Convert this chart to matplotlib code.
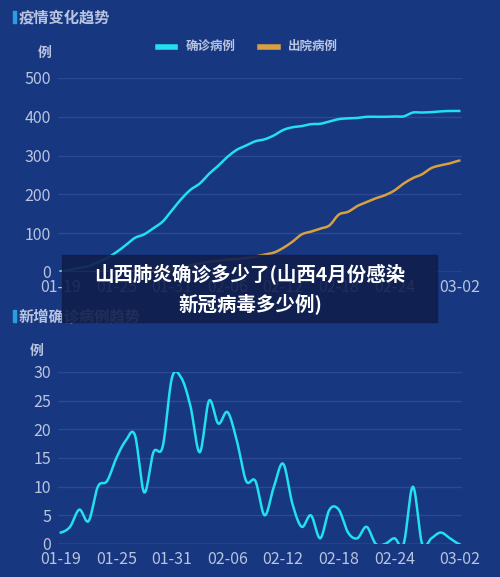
import numpy as np
import matplotlib
matplotlib.use("Agg")
from matplotlib import pyplot as plt
from matplotlib.patches import Rectangle

plt.rcParams['font.family'] = ['Noto Sans CJK SC', 'DejaVu Sans']

dates = ['01-19', '01-25', '01-31', '02-06', '02-12', '02-18', '02-24', '03-02']
tick_idx = [0, 6, 12, 18, 24, 30, 36, 43]

new_cases = [2, 3, 6, 4, 10, 11, 15, 18, 19, 9, 16, 17, 29, 29, 24, 16, 25, 21, 23, 18,
             11, 11, 5, 10, 14, 7, 3, 5, 1, 6, 6, 2, 1, 3, 0, 0, 1, 0, 10, 0, 1, 2, 1, 0]
discharged = [0, 0, 0, 0, 0, 0, 1, 1, 2, 2, 3, 5, 8, 12, 17, 22, 26, 29, 32, 33,
              36, 40, 45, 50, 62, 78, 97, 104, 112, 120, 148, 155, 170, 180, 190, 198,
              210, 228, 242, 252, 268, 275, 280, 287]
confirmed = np.cumsum(new_cases)

bg = '#173780'
cyan = '#22e0ee'
orange = '#d9a040'
grid_c = '#2b4a93'
tick_c = '#b8c4e0'


def smooth(y, n=12):
    # Catmull-Rom resampling for the smooth line look
    y = np.asarray(y, float)
    p = np.concatenate([[y[0]], y, [y[-1]]])
    xs, ys = [], []
    for i in range(len(y) - 1):
        p0, p1, p2, p3 = p[i], p[i + 1], p[i + 2], p[i + 3]
        t = np.linspace(0, 1, n, endpoint=False)
        v = 0.5 * (2 * p1 + (-p0 + p2) * t + (2 * p0 - 5 * p1 + 4 * p2 - p3) * t ** 2
                   + (-p0 + 3 * p1 - 3 * p2 + p3) * t ** 3)
        xs.append(i + t)
        ys.append(v)
    xs.append([len(y) - 1])
    ys.append([y[-1]])
    return np.concatenate(xs), np.concatenate(ys)


fig = plt.figure(figsize=(5, 5.77), dpi=100, facecolor=bg)
W, H = 500, 577


def style(ax, ymax, step):
    ax.set_facecolor(bg)
    for s in ax.spines.values():
        s.set_visible(False)
    ax.set_xlim(-0.3, 43.3)
    ax.set_ylim(0, ymax)
    ax.set_yticks(np.arange(0, ymax + 1, step))
    ax.set_xticks(tick_idx)
    ax.set_xticklabels(dates)
    ax.tick_params(colors=tick_c, labelsize=11.5, length=0, pad=5)
    ax.yaxis.grid(True, color=grid_c, lw=1)
    ax.axhline(0, color='#4a64a8', lw=1)
    ax.set_axisbelow(True)


ax1 = fig.add_axes([58 / W, 1 - 272 / H, 404 / W, 194 / H])
style(ax1, 500, 100)
ax1.plot(*smooth(confirmed, 4), color=cyan, lw=1.8, label='确诊病例')
ax1.plot(*smooth(discharged, 4), color=orange, lw=1.8, label='出院病例')
ax1.legend(loc='lower center', bbox_to_anchor=(0.47, 1.07), ncol=2, frameon=False,
           labelcolor=tick_c, fontsize=9, handlelength=1.4, handleheight=0.3,
           prop={'weight': 'bold', 'size': 9})
for h in ax1.get_legend().get_lines():
    h.set_linewidth(4)
ax1.text(-0.05, 1.11, '例', transform=ax1.transAxes, color=tick_c, fontsize=10, fontweight='bold')

ax2 = fig.add_axes([58 / W, 1 - 544 / H, 404 / W, 172 / H])
style(ax2, 30, 5)
ax2.plot(*smooth(new_cases, 14), color=cyan, lw=1.8)
ax2.text(-0.07, 1.1, '例', transform=ax2.transAxes, color=tick_c, fontsize=10, fontweight='bold')

for y, title in [(17, '疫情变化趋势'), (316, '新增确诊病例趋势')]:
    fig.patches.append(Rectangle((13 / W, 1 - (y + 6) / H), 3 / W, 12 / H,
                                 transform=fig.transFigure, color='#2a9ee0'))
    fig.text(19 / W, 1 - y / H, title, color=tick_c, fontsize=11, fontweight='bold', va='center')

fig.patches.append(Rectangle((62 / W, 1 - 322 / H), 375 / W, 67 / H,
                             transform=fig.transFigure, color='#101e4c', alpha=0.9, zorder=5))
fig.text(250 / W, 1 - 289 / H, '山西肺炎确诊多少了(山西4月份感染\n新冠病毒多少例)', color='white',
         fontsize=14, fontweight='bold', ha='center', va='center', linespacing=1.55, zorder=6)

fig.savefig('out.png', dpi=100, facecolor=bg)
